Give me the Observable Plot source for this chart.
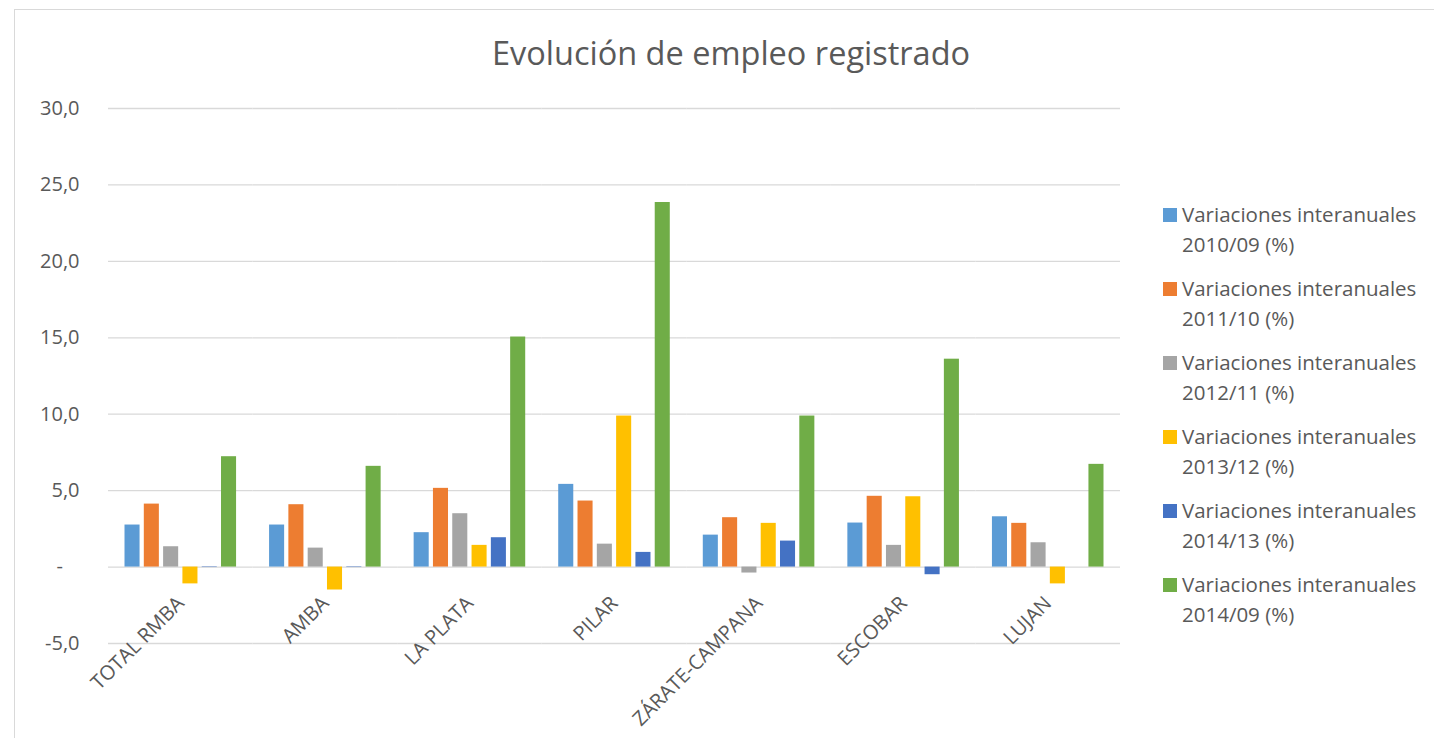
<!DOCTYPE html>
<html>
<head>
<meta charset="utf-8">
<script src="https://cdn.jsdelivr.net/npm/d3@7"></script>
<script src="https://cdn.jsdelivr.net/npm/@observablehq/plot@0.6"></script>
<style>
  html, body { margin: 0; padding: 0; background: #fff; overflow: hidden; }
  body { width: 1434px; height: 738px; position: relative; font-family: "Open Sans", sans-serif; color: #595959; }
  #frame { position: absolute; left: 14px; top: 9px; width: 1460px; height: 760px; border: 1.5px solid #d9d9d9; box-sizing: border-box; }
  #title { position: absolute; left: 731px; top: 52px; transform: translate(-50%, -50%); white-space: nowrap; font-size: 32.5px; color: #595959; }
  #chart { position: absolute; left: 0; top: 80px; }
  #legend { position: absolute; left: 1162px; top: 199px; }
  .item { position: relative; height: 74px; }
  .sw { position: absolute; left: 1px; top: 9px; width: 14px; height: 14px; }
  .lab { position: absolute; left: 20px; top: 0; font-size: 20.5px; line-height: 30px; white-space: nowrap; color: #595959; }
</style>
</head>
<body>
<div id="frame"></div>
<div id="title">Evolución de empleo registrado</div>
<div id="chart"></div>
<div id="legend"></div>
<script>
const categories = ["TOTAL RMBA", "AMBA", "LA PLATA", "PILAR", "ZÁRATE-CAMPANA", "ESCOBAR", "LUJAN"];
const series = [
  "Variaciones interanuales 2010/09 (%)",
  "Variaciones interanuales 2011/10 (%)",
  "Variaciones interanuales 2012/11 (%)",
  "Variaciones interanuales 2013/12 (%)",
  "Variaciones interanuales 2014/13 (%)",
  "Variaciones interanuales 2014/09 (%)"
];
const colors = ["#5B9BD5", "#ED7D31", "#A5A5A5", "#FFC000", "#4472C4", "#70AD47"];
const v2010_09 = [2.75, 2.75, 2.25, 5.41, 2.09, 2.88, 3.29];
const v2011_10 = [4.12, 4.08, 5.15, 4.32, 3.23, 4.63, 2.86];
const v2012_11 = [1.33, 1.24, 3.49, 1.50, -0.39, 1.42, 1.59];
const v2013_12 = [-1.10, -1.50, 1.42, 9.88, 2.86, 4.60, -1.10];
const v2014_13 = [-0.03, -0.03, 1.92, 0.96, 1.70, -0.50, null];
const v2014_09 = [7.22, 6.59, 15.05, 23.85, 9.88, 13.60, 6.72];
const yTicks = [-5, 0, 5, 10, 15, 20, 25, 30];

const seriesValues = [v2010_09, v2011_10, v2012_11, v2013_12, v2014_13, v2014_09];
const data = [];
categories.forEach((c, i) => {
  series.forEach((s, j) => {
    const v = seriesValues[j][i];
    if (v != null) data.push({category: c, series: s, value: v});
  });
});

const fmt = d => d === 0 ? "-\u2007\u00a0" : d.toFixed(1).replace(".", ",");

const chart = Plot.plot({
  width: 1434,
  height: 658,
  marginTop: 28,
  marginBottom: 95,
  marginLeft: 108,
  marginRight: 314,
  style: {fontFamily: "'Open Sans', sans-serif", fontSize: "20px", color: "#595959", background: "transparent", overflow: "visible"},
  fx: {domain: categories, padding: 0, round: false, axis: null, label: null},
  x: {domain: series, paddingInner: 0.22, paddingOuter: 0.855, round: false, axis: null},
  y: {domain: [-5, 30], ticks: yTicks, tickSize: 0, tickPadding: 29, tickFormat: fmt, label: null},
  color: {domain: series, range: colors},
  marks: [
    Plot.ruleY(yTicks, {stroke: "#d9d9d9", strokeWidth: 1.3}),
    Plot.barY(data, {fx: "category", x: "series", y: "value", fill: "series"}),
    Plot.text(categories, {fx: d => d, y: d => 0, text: d => d, rotate: -45, textAnchor: "end", dx: 0, dy: 33, fontSize: 20, fill: "#595959"})
  ]
});
document.getElementById("chart").appendChild(chart);

const legend = d3.select("#legend");
series.forEach((s, j) => {
  const item = legend.append("div").attr("class", "item");
  item.append("div").attr("class", "sw").style("background", colors[j]);
  const parts = s.match(/^(Variaciones interanuales) (.*)$/);
  item.append("div").attr("class", "lab").html(parts[1] + "<br>" + parts[2]);
});
</script>
</body>
</html>
